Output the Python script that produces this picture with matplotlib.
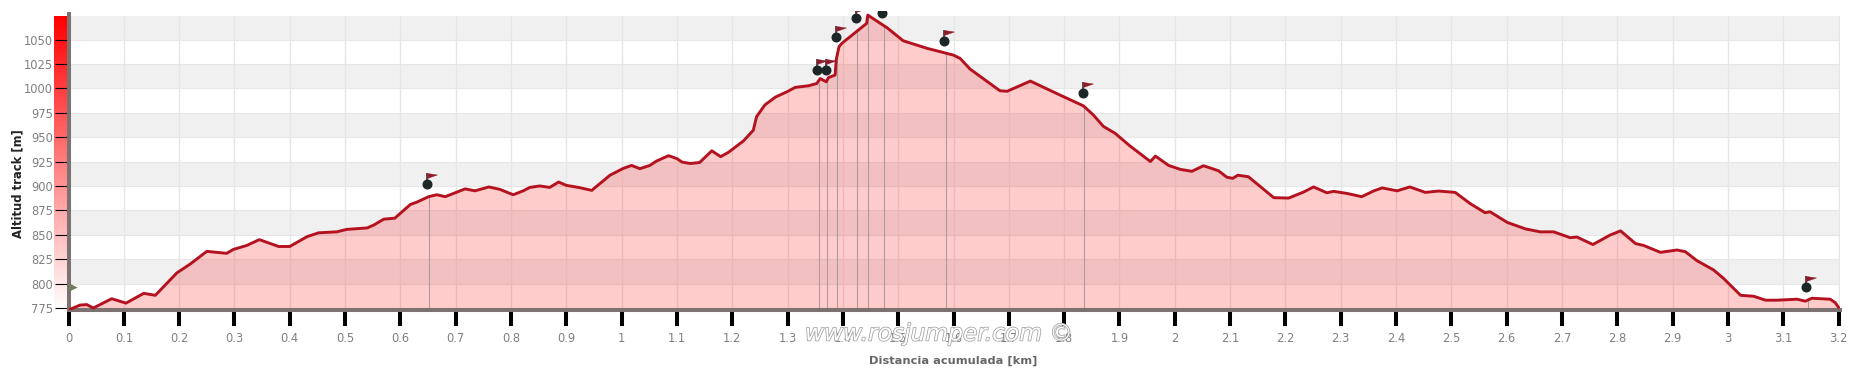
import numpy as np
import matplotlib
matplotlib.use("Agg")
import matplotlib.pyplot as plt
import matplotlib.patheffects as pe
from matplotlib.colors import LinearSegmentedColormap
from matplotlib.path import Path

W, H = 1871, 370

# profile
dist_km = [0, .021, .033, .045, .078, .104, .136, .157, .196, .22, .25, .286, .298, .322, .345, .38, .40, .431, .452, .485,
           .503, .54, .552, .57, .59, .618, .63, .651, .666, .681, .717, .735, .76, .78, .804, .822, .834, .852, .87, .886,
           .90, .922, .946, .979, 1.003, 1.018, 1.033, 1.051, 1.063, 1.085, 1.10, 1.109, 1.124, 1.141, 1.163, 1.179, 1.193,
           1.22, 1.238, 1.244, 1.259, 1.278, 1.299, 1.314, 1.338, 1.353, 1.359, 1.37, 1.374, 1.386, 1.388, 1.393, 1.398,
           1.443, 1.445, 1.48, 1.509, 1.552, 1.60, 1.612, 1.63, 1.684, 1.697, 1.739, 1.793, 1.835, 1.853, 1.871, 1.892,
           1.919, 1.956, 1.965, 1.989, 2.01, 2.031, 2.052, 2.079, 2.094, 2.105, 2.114, 2.133, 2.179, 2.206, 2.233, 2.251,
           2.275, 2.287, 2.311, 2.338, 2.36, 2.375, 2.402, 2.425, 2.453, 2.477, 2.507, 2.534, 2.561, 2.57, 2.601, 2.634,
           2.661, 2.685, 2.715, 2.727, 2.756, 2.787, 2.806, 2.833, 2.848, 2.878, 2.908, 2.923, 2.944, 2.974, 2.992, 3.023,
           3.047, 3.068, 3.089, 3.125, 3.14, 3.152, 3.185, 3.194, 3.2]
altitude = [773, 778, 778.5, 775, 784.5, 780, 790, 788, 811, 820, 833, 831, 835, 839, 845, 838, 838, 848, 852, 853,
            855.5, 857, 860, 866, 867, 881, 883.5, 889, 891, 889, 897, 895, 899, 896.5, 891, 895, 898.5, 900, 898.5, 904,
            900.6, 898.5, 895.5, 911, 918, 921, 917.7, 921, 925.5, 931, 928, 924.5, 923, 924, 936, 930, 934.4,
            946, 957, 971, 983, 991, 996.5, 1001, 1002.6, 1005, 1010, 1006.7, 1011, 1013.6, 1029.6, 1042.6, 1046,
            1066.5, 1075, 1062, 1048.7, 1041, 1034, 1030.6, 1019.7, 997.5, 997, 1007.4, 993, 982, 972.6, 961, 954,
            941, 925, 930.6, 921, 917, 915, 920.7, 915.6, 909, 907.8, 911, 909.5, 888, 887.6, 893.8, 899,
            893, 894.5, 892.4, 889, 895, 898, 895, 899, 893.4, 894.8, 893.4, 882, 872.6, 873.6, 862.7, 856,
            853, 853, 847, 847.7, 840, 849.7, 854, 841, 839, 832, 834.4, 832.7, 823.5, 814, 805.4, 788,
            787, 783, 783, 784, 782, 785, 784, 780.5, 775.7]

# waypoints: distance, altitude on the track, altitude of the pin dot
pin_km = [.651, 1.356, 1.372, 1.390, 1.426, 1.445, 1.474, 1.586, 1.836, 3.144]
pin_alt = [889, 1005, 1007, 1035, 1060, 1075, 1064, 1036, 982, 783]
pin_dot = [902, 1019, 1019, 1053, 1072, 1090, 1077, 1048.5, 995, 796]

x_ticks = [i / 10 for i in range(33)]
x_labels = ["%g" % v for v in x_ticks]
y_ticks = list(range(775, 1051, 25))
band_low = [800, 850, 900, 950, 1000, 1050]
band_high = [825, 875, 925, 975, 1025, 1074]


def axes_px(fig, left, top, right, bottom, **kw):
    return fig.add_axes([left / W, 1 - bottom / H, (right - left) / W, (bottom - top) / H], **kw)


fig = plt.figure(figsize=(W / 100, H / 100), dpi=100)

# red scale next to the y axis
red_white = LinearSegmentedColormap.from_list("rw", ["#ff0000", "#ffffff"])
cax = axes_px(fig, 54, 16, 68, 310)
cax.imshow(np.linspace(0, 1, 256).reshape(-1, 1), cmap=red_white, aspect="auto")
cax.axis("off")

ax = axes_px(fig, 68.5, 11, 1839.5, 310, facecolor="none")
ax.set_xlim(0, 3.2018)
ax.set_ylim(772.95, 1079.2)

for lo, hi in zip(band_low, band_high):
    ax.axhspan(lo, hi, color="#f0f0f0", lw=0, zorder=0)
ax.hlines(y_ticks, 0, 3.2018, color="#e6e6e6", lw=0.8, zorder=0.5)
ax.vlines(x_ticks, 772.95, 1074, color="#e6e6e6", lw=1.0, zorder=0.5)

ax.fill_between(dist_km, altitude, 772.95, color="#ff0000", alpha=0.2, lw=0, zorder=1)
ax.vlines(pin_km, 772.95, pin_alt, color="#a89c9c", lw=0.8, zorder=2)
ax.plot(dist_km, altitude, color="#b5121f", lw=2.1, zorder=3, solid_joinstyle="round")

# pins, shapes in pixels relative to the dot
stem = Path([(0, 0), (0, 11)], [Path.MOVETO, Path.LINETO])
flag = Path([(0, 11), (10, 9.5), (0, 6), (0, 11)], closed=True)
dot_x = [v - 0.0025 for v in pin_km]
ax.plot(dot_x, pin_dot, ls="none", marker=stem, ms=15.84, mfc="none", mec="#3a1a20", mew=1.1, zorder=4)
ax.plot(dot_x, pin_dot, ls="none", marker=flag, ms=15.84, mfc="#8e1a2a", mec="#8e1a2a", mew=0.3, zorder=4)
ax.plot(dot_x, pin_dot, ls="none", marker="o", ms=6.2, mfc="#1c2626", mec="#1c2626", zorder=5)

# start flag
ax.plot([0.006], [797], ls="none", marker=">", ms=7, mfc="#6f7a60", mec="none", zorder=6, clip_on=False)

for s in ["top", "right"]:
    ax.spines[s].set_visible(False)
ax.spines["left"].set_color("#7c7272")
ax.spines["left"].set_linewidth(2.9)
ax.spines["left"].set_bounds(772.95, 1076)
ax.spines["bottom"].set_color("#7c7272")
ax.spines["bottom"].set_linewidth(2.9)

ax.set_xticks(x_ticks, x_labels)
ax.set_yticks(y_ticks)
ax.tick_params(axis="x", length=11.5, width=2.9, color="black", labelcolor="#808080", labelsize=8.3, pad=4)
ax.tick_params(axis="y", length=10, width=0.8, color="black", labelcolor="#808080", labelsize=8.3, pad=1)

fig.text(18 / W, 1 - 184 / H, "Altitud track [m]", rotation=90, ha="center", va="center",
         fontsize=8.4, fontweight="bold", color="#222222")
fig.text(953 / W, 1 - 361 / H, "Distancia acumulada [km]", ha="center", va="center",
         fontsize=8.2, fontweight="bold", color="#666666")

wm = fig.text(939 / W, 1 - 334 / H, "www.rosjumper.com ©", ha="center", va="center",
              fontsize=16.8, style="italic", color="white", zorder=10)
wm.set_path_effects([pe.withStroke(linewidth=1.1, foreground="#a0a0a0")])

fig.savefig("out.png", dpi=100)
